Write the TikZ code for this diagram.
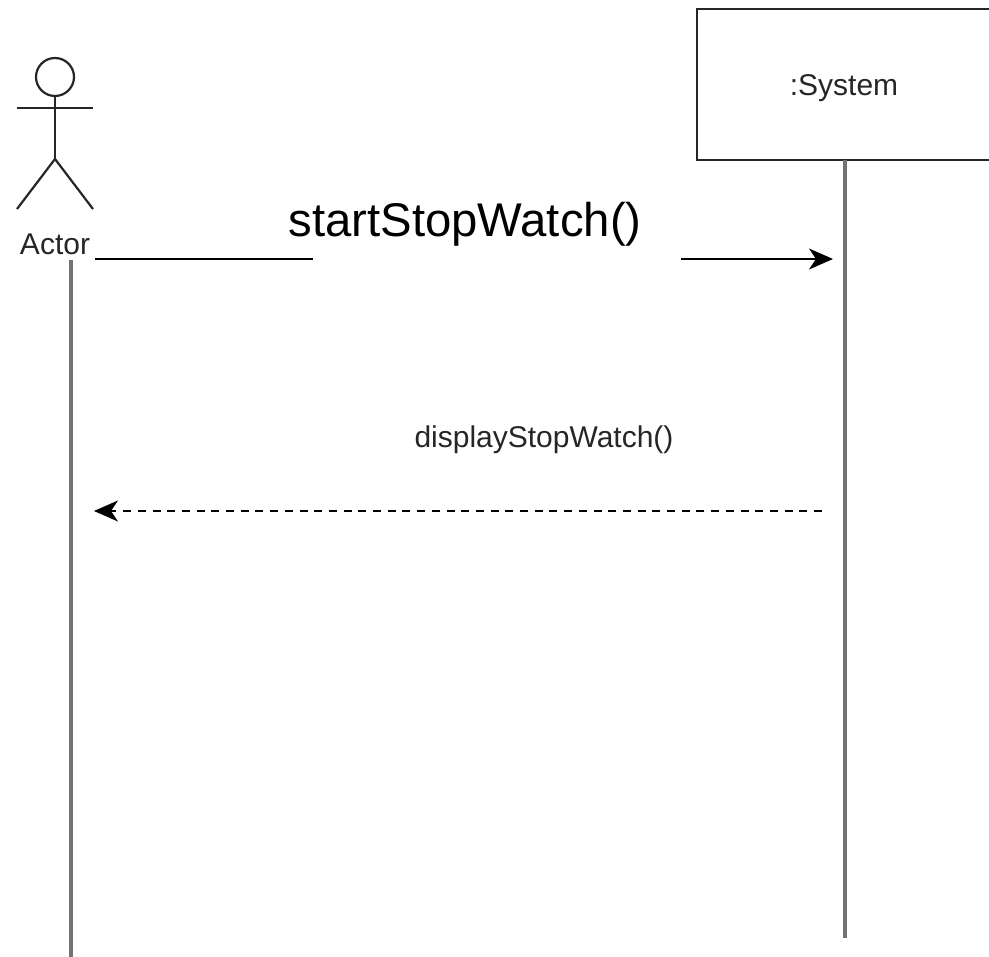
\documentclass[tikz,border=0pt]{standalone}
\usepackage{fontspec}
\setmainfont{Liberation Sans}
\usetikzlibrary{arrows.meta}
\definecolor{inkline}{gray}{0.15}
\begin{document}
\begin{tikzpicture}[x=1pt,y=-1pt,
	line width=2.2pt,draw=inkline,
	msg/.style={-{Stealth[length=24pt,width=21pt,inset=7pt]},black},
	lifeline/.style={line width=3.5pt,black!55},
	small/.style={text=inkline,font=\fontsize{30}{36}\selectfont}]
\useasboundingbox (0,0) rectangle (989,957);
% actor
\draw (55,77) circle (19);
\draw (55,96) -- (55,159);
\draw (17,108) -- (93,108);
\draw (17,209) -- (55,159) -- (93,209);
\node[small] (actor) at (55,244) {Actor};
% system box
\node[draw,minimum width=293,minimum height=151,inner sep=0,anchor=north west] (system) at (696,8) {};
\node[small] (systemlabel) at (844,88) {:System};
% lifelines
\coordinate (actorend) at (71,957);
\coordinate (actortop) at (71,260);
\coordinate (systemtop) at (845,160);
\coordinate (systemend) at (845,938);
\draw[lifeline] (actortop) -- (actorend);
\draw[lifeline] (systemtop) -- (systemend);
% messages
\coordinate (startfrom) at (95,259);
\coordinate (startto) at (833,259);
\draw[msg] (startfrom) -- (startto);
\fill[white] (313,235) rectangle (681,275);
\node[inner sep=0] (startlabel) at (465,224) {\fontsize{47.3}{56}\selectfont startStopWatch()};
\coordinate (dispfrom) at (822,511);
\coordinate (dispto) at (94,511);
\draw[msg,dash pattern=on 8pt off 6.7pt] (dispfrom) -- (dispto);
\node[small] (displabel) at (544,440) {displayStopWatch()};
\end{tikzpicture}
\end{document}
